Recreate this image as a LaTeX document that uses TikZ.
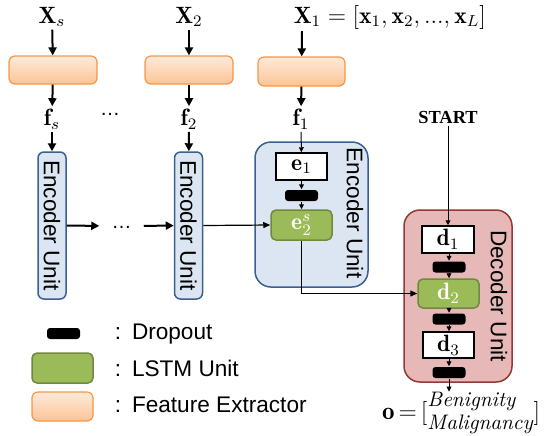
\documentclass[tikz,border=0pt]{standalone}
\usepackage{amsmath}
\usepackage{fontspec}
\setsansfont{Liberation Sans}
\newfontfamily\startfont{Liberation Serif}
\usetikzlibrary{arrows.meta}

\definecolor{fxdraw}{RGB}{247,150,70}
\definecolor{fxtop}{RGB}{254,234,218}
\definecolor{fxbot}{RGB}{251,196,150}
\definecolor{encfill}{RGB}{220,230,242}
\definecolor{encdraw}{RGB}{58,95,145}
\definecolor{lstmfill}{RGB}{155,187,89}
\definecolor{lstmdraw}{RGB}{113,137,63}
\definecolor{decfill}{RGB}{230,184,183}
\definecolor{decdraw}{RGB}{149,55,53}

\tikzset{every picture/.style={line width=0.75pt}}
\tikzset{
  mathlbl/.style={inner sep=1pt, font=\fontsize{11.8}{13}\selectfont},
  unitlbl/.style={inner sep=0pt, rotate=-90, font=\sffamily\fontsize{11.3}{13}\selectfont},
  fxbox/.style={draw=fxdraw, line width=0.6pt, rounded corners=3pt, top color=fxtop, bottom color=fxbot, inner sep=0pt},
  encbox/.style={draw=encdraw, line width=0.75pt, fill=encfill, inner sep=0pt},
  decbox/.style={draw=decdraw, line width=0.75pt, fill=decfill, inner sep=0pt, rounded corners=8pt},
  cellbox/.style={draw, line width=0.75pt, fill=white, inner sep=0pt, minimum height=13.5pt, font=\fontsize{11.8}{13}\selectfont},
  lstmbox/.style={draw=lstmdraw, line width=0.75pt, fill=lstmfill, rounded corners=2.5pt, inner sep=0pt, text=white, font=\fontsize{11.8}{13}\selectfont},
  dropbox/.style={fill=black, rounded corners=1.5pt, inner sep=0pt, minimum width=16.5pt, minimum height=5.5pt},
  dotslbl/.style={inner sep=0pt, font=\sffamily\fontsize{10}{12}\selectfont},
  bigarrow/.style={line width=1pt, -{Triangle[length=4pt,width=4pt]}},
  smallarrow/.style={line width=0.5pt, -{Triangle[length=2.5pt,width=2.4pt]}},
}

\begin{document}
\begin{tikzpicture}[x=0.5pt,y=0.5pt,yscale=-1,xscale=1]
\useasboundingbox (0,0) rectangle (544,435);

% Text Node
\node [mathlbl] (xs) at (52,17) {$\mathbf{X}_s$};
\node [mathlbl] (x2) at (189,17) {$\mathbf{X}_2$};
\node [mathlbl, anchor=west, inner sep=0pt] (x1) at (293,17) {$\mathbf{X}_1=[\mathbf{x}_1{,}\,\mathbf{x}_2{,}\,\mathord{.}\mathord{.}\mathord{.}{,}\,\mathbf{x}_L]$};
\coordinate (x1in) at (302,31);

%Shape: Feature extractors
\node [fxbox, minimum width=44pt, minimum height=14pt] (fxs) at (53,70) {};
\node [fxbox, minimum width=44pt, minimum height=14pt] (fx2) at (189,70) {};
\node [fxbox, minimum width=43.5pt, minimum height=14.5pt] (fx1) at (301.5,71.5) {};

% Text Node
\node [mathlbl] (fs) at (52,119) {$\mathbf{f}_s$};
\node [mathlbl] (f2) at (189,119) {$\mathbf{f}_2$};
\node [mathlbl] (f1) at (301,119) {$\mathbf{f}_1$};
\node [dotslbl] (dotstop) at (110,114) {…};

%Shape: small encoder units
\node [encbox, rounded corners=3pt, minimum width=14pt, minimum height=73.5pt] (encs) at (52,225.5) {};
\node [unitlbl] at (encs) {Encoder Unit};
\node [encbox, rounded corners=3pt, minimum width=14pt, minimum height=73.5pt] (enc2) at (188.5,225.5) {};
\node [unitlbl] at (enc2) {Encoder Unit};
\node [dotslbl, minimum width=21.5pt] (dotsmid) at (121.5,226) {\raisebox{-2.5pt}{…}};

%Shape: encoder unit
\node [encbox, rounded corners=8pt, minimum width=56.5pt, minimum height=72.5pt] (encbig) at (311.5,214.5) {};
\node [unitlbl] at (355,213) {Encoder Unit};
\node [cellbox, minimum width=25.5pt] (e1) at (301.5,166.5) {$\mathbf{e}_1$};
\node [dropbox] (drope) at (301.5,195.5) {};
\node [lstmbox, minimum width=30.5pt, minimum height=15pt] (e2) at (301.5,225) {$\mathbf{e}_2^s$};

%Shape: decoder unit
\node [inner sep=1pt, font=\startfont\bfseries\fontsize{9.2}{11}\selectfont] (start) at (448,117) {START};
\node [decbox, minimum width=54pt, minimum height=86pt] (decbig) at (458,296) {};
\node [unitlbl] at (499,296) {Decoder Unit};
\node [cellbox, minimum width=26pt] (d1) at (448,239.5) {$\mathbf{d}_1$};
\node [dropbox] (dropd1) at (449,267) {};
\node [lstmbox, minimum width=30.5pt, minimum height=14.5pt] (d2) at (448.5,293.5) {$\mathbf{d}_2$};
\node [dropbox] (dropd2) at (449,319) {};
\node [cellbox, minimum width=25.5pt, minimum height=13pt] (d3) at (448.5,345) {$\mathbf{d}_3$};
\node [dropbox] (dropd3) at (449,372.5) {};
\node [inner sep=0pt, anchor=east, font=\fontsize{12.5}{14}\selectfont] (out) at (541,413) {$\mathbf{o}\mkern-2mu=\mkern-2mu[^{\mbox{\fontsize{10.5}{12}\selectfont\itshape Benignity}}_{\mbox{\fontsize{10.5}{12}\selectfont\itshape Malignancy}}]$};

%Straight Lines
\draw [bigarrow] (xs) -- (fxs);
\draw [bigarrow] (x2) -- (fx2);
\draw [bigarrow] (x1in) -- (fx1);
\draw [bigarrow] (fxs) -- (fs);
\draw [bigarrow] (fx2) -- (f2);
\draw [bigarrow] (fx1) -- (f1);
\draw [bigarrow] (fs) -- (encs);
\draw [bigarrow] (f2) -- (enc2);
\draw [bigarrow] (encs) -- (dotsmid);
\draw [bigarrow] (dotsmid) -- (enc2);
\draw [smallarrow] (f1) -- (e1);
\draw [smallarrow] (e1) -- (drope);
\draw [smallarrow] (drope) -- (e2);
\draw [line width=0.6pt, -{Triangle[length=3.5pt,width=3pt]}] (enc2.east) -- (e2.west);
\draw [line width=0.6pt, -{Triangle[length=3.5pt,width=3pt]}] (e2.south) |- (d2.west);
\draw [smallarrow] (start) -- (start |- d1.north);
\draw [smallarrow] (d1.south -| dropd1) -- (dropd1);
\draw [smallarrow] (dropd1) -- (dropd1 |- d2.north);
\draw [smallarrow] (dropd2 |- d2.south) -- (dropd2);
\draw [smallarrow] (dropd2) -- (dropd2 |- d3.north);
\draw [smallarrow] (dropd3 |- d3.south) -- (dropd3);
\draw [smallarrow] (dropd3) -- (dropd3 |- out.north);

%Legend
\node [dropbox] (legdrop) at (63.5,333.5) {};
\node [lstmbox, minimum width=30.5pt, minimum height=15pt] (leglstm) at (62.5,368) {};
\node [fxbox, minimum width=30.5pt, minimum height=14.5pt] (legfx) at (62.5,406.5) {};
\node [anchor=west, inner sep=0pt, font=\sffamily\fontsize{11.3}{13}\selectfont] at (114,334) {:\hspace{5.5pt}Dropout};
\node [anchor=west, inner sep=0pt, font=\sffamily\fontsize{11.3}{13}\selectfont] at (114,368) {:\hspace{5.5pt}LSTM Unit};
\node [anchor=west, inner sep=0pt, font=\sffamily\fontsize{11.3}{13}\selectfont] at (114,405) {:\hspace{5.5pt}Feature Extractor};

\end{tikzpicture}
\end{document}
